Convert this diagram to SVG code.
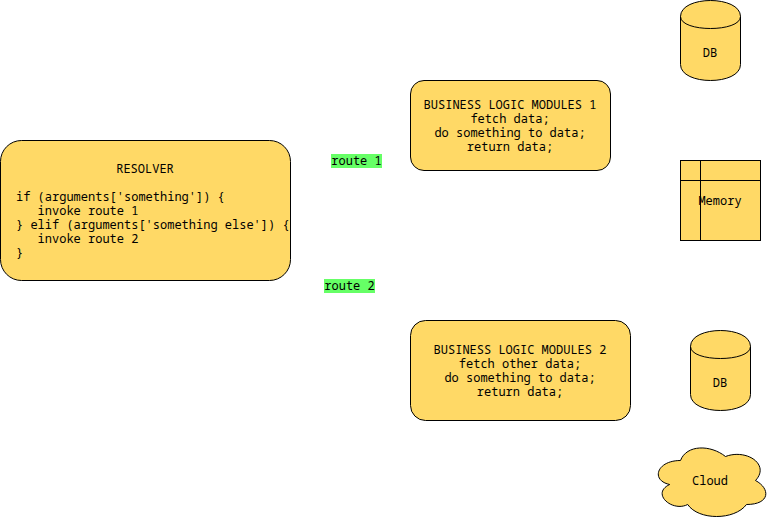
<svg xmlns="http://www.w3.org/2000/svg" width="771" height="521" viewBox="0 0 771 521">
  <style>
    .s { fill: #FFD966; stroke: #000; stroke-width: 1; }
    .l { fill: none; stroke: #000; stroke-width: 1; }
    text { font-family: "Noto Sans Mono", "DejaVu Sans Mono", monospace; font-size: 12px; fill: #000; }
    .c { text-anchor: middle; }
    .bg { fill: #66FF66; }
  </style>
  <rect width="771" height="521" fill="#fff"/>
  <g id="connectors"></g>
  <g id="resolver">
    <rect class="s" x="0.5" y="140.5" width="290" height="140" rx="21" ry="21"/>
    <text class="c" x="145" y="173">RESOLVER</text>
    <text xml:space="preserve"><tspan x="16" y="201">if (arguments['something']) {</tspan><tspan x="16" y="215">   invoke route 1</tspan><tspan x="16" y="229">} elif (arguments['something else']) {</tspan><tspan x="16" y="243">   invoke route 2</tspan><tspan x="16" y="257">}</tspan></text>
  </g>
  <g id="route1">
    <rect class="bg" x="331" y="154" width="51" height="14"/>
    <text class="c" x="356.5" y="165">route 1</text>
  </g>
  <g id="route2">
    <rect class="bg" x="324" y="279" width="51" height="14"/>
    <text class="c" x="349.5" y="290">route 2</text>
  </g>
  <g id="modules1">
    <rect class="s" x="410.5" y="80.5" width="200" height="90" rx="13.5" ry="13.5"/>
    <text class="c"><tspan x="510" y="109">BUSINESS LOGIC MODULES 1</tspan><tspan x="510" y="123">fetch data;</tspan><tspan x="510" y="137">do something to data;</tspan><tspan x="510" y="151">return data;</tspan></text>
  </g>
  <g id="modules2">
    <rect class="s" x="410.5" y="320.5" width="220" height="100" rx="15" ry="15"/>
    <text class="c"><tspan x="520" y="354">BUSINESS LOGIC MODULES 2</tspan><tspan x="520" y="368">fetch other data;</tspan><tspan x="520" y="382">do something to data;</tspan><tspan x="520" y="396">return data;</tspan></text>
  </g>
  <g id="db1">
    <path class="s" d="M680.500 16.500C680.500 -4.830 740.500 -4.830 740.500 16.500V64.500C740.500 85.830 680.500 85.830 680.500 64.500Z"/>
    <path class="l" d="M680.500 16.500C680.500 32.500 740.500 32.500 740.500 16.500"/>
    <text class="c" x="710" y="57">DB</text>
  </g>
  <g id="memory">
    <rect class="s" x="680.500" y="160.500" width="80" height="80"/>
    <path class="l" d="M700.500 160.500V240.500M680.500 180.500H760.500"/>
    <text class="c" x="720" y="205">Memory</text>
  </g>
  <g id="db2">
    <path class="s" d="M690.500 346.500C690.500 325.170 750.500 325.170 750.500 346.500V394.500C750.500 415.830 690.500 415.830 690.500 394.500Z"/>
    <path class="l" d="M690.500 346.500C690.500 362.500 750.500 362.500 750.500 346.500"/>
    <text class="c" x="720" y="387">DB</text>
  </g>
  <g id="cloud">
    <path class="s" d="M680.500 460.500C656.500 460.500 650.500 480.500 669.700 484.500C650.500 493.300 672.100 512.500 687.700 504.500C698.500 520.500 734.500 520.500 746.500 504.500C770.500 504.500 770.500 488.500 755.500 480.500C770.500 464.500 746.500 448.500 725.500 456.500C710.500 444.500 686.500 444.500 680.500 460.500Z"/>
    <text class="c" x="710" y="485">Cloud</text>
  </g>
</svg>
